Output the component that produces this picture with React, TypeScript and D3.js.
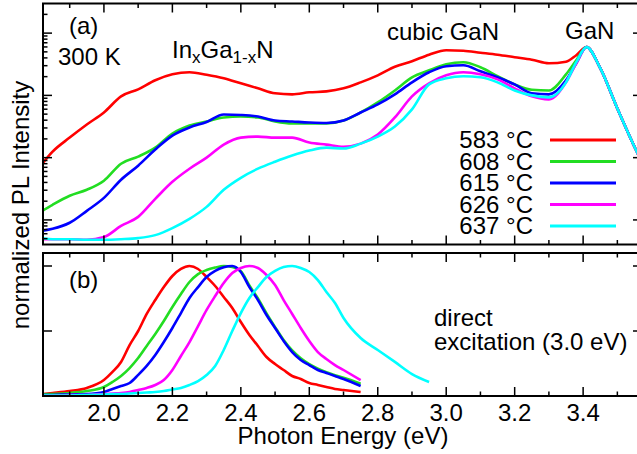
import React from 'react';
import * as d3 from 'd3';

// ---------- data ----------
const seriesLabels = ['583 °C', '608 °C', '615 °C', '626 °C', '637 °C'];
const seriesColors = ['#ff0000', '#22dd22', '#0000ff', '#ff00ff', '#00ffff'];

// (a) PL spectra, log intensity
const topEnergy = [1.82, 1.85, 1.9, 1.95, 2.0, 2.05, 2.1, 2.15, 2.2, 2.25, 2.3, 2.35, 2.4, 2.45, 2.5, 2.55, 2.6, 2.65, 2.7, 2.75, 2.8, 2.85, 2.9, 2.95, 3.0, 3.05, 3.1, 3.15, 3.2, 3.25, 3.3, 3.35, 3.38, 3.41, 3.45, 3.5, 3.55, 3.6];
const top583 = [0.008, 0.0125, 0.021, 0.0341, 0.0532, 0.0964, 0.125, 0.175, 0.218, 0.235, 0.214, 0.188, 0.156, 0.13, 0.108, 0.104, 0.112, 0.116, 0.13, 0.162, 0.21, 0.288, 0.354, 0.45, 0.532, 0.522, 0.485, 0.45, 0.41, 0.374, 0.328, 0.347, 0.442, 0.595, 0.273, 0.0617, 0.015, 0.00426];
const top608 = [0.0014, 0.00175, 0.00244, 0.00305, 0.00426, 0.008, 0.0104, 0.0145, 0.0244, 0.0328, 0.0381, 0.0442, 0.0458, 0.0442, 0.0381, 0.0354, 0.0354, 0.0354, 0.0395, 0.0532, 0.0771, 0.12, 0.195, 0.253, 0.316, 0.341, 0.283, 0.203, 0.15, 0.123, 0.12, 0.218, 0.367, 0.595, 0.273, 0.0617, 0.015, 0.00426];
const top615 = [0.00067, 0.00072, 0.0009, 0.0014, 0.00226, 0.00442, 0.00743, 0.0135, 0.0226, 0.0305, 0.0374, 0.0494, 0.0485, 0.0458, 0.0395, 0.0381, 0.0367, 0.036, 0.0395, 0.0532, 0.0716, 0.104, 0.162, 0.235, 0.294, 0.305, 0.244, 0.195, 0.15, 0.108, 0.104, 0.175, 0.328, 0.595, 0.273, 0.0617, 0.015, 0.00426];
const top626 = [0.00049, 0.00049, 0.00049, 0.00048, 0.00053, 0.0008, 0.00112, 0.00218, 0.0041, 0.00665, 0.01, 0.0162, 0.021, 0.0218, 0.021, 0.021, 0.0175, 0.0162, 0.015, 0.0168, 0.0235, 0.0442, 0.0964, 0.156, 0.21, 0.235, 0.218, 0.181, 0.13, 0.0964, 0.0862, 0.162, 0.328, 0.595, 0.273, 0.0617, 0.015, 0.00426];
const top637 = [0.00051, 0.00049, 0.00049, 0.00048, 0.00048, 0.00049, 0.00051, 0.00057, 0.00074, 0.00104, 0.00162, 0.00305, 0.00475, 0.00665, 0.0086, 0.0108, 0.013, 0.0145, 0.014, 0.0168, 0.0218, 0.0316, 0.0595, 0.15, 0.188, 0.203, 0.195, 0.162, 0.12, 0.1, 0.0929, 0.162, 0.341, 0.595, 0.273, 0.0617, 0.015, 0.00426];

// (b) direct excitation, linear intensity
const botEnergy = [1.82, 1.85, 1.9, 1.95, 2.0, 2.025, 2.05, 2.075, 2.1, 2.125, 2.15, 2.175, 2.2, 2.225, 2.25, 2.275, 2.3, 2.325, 2.35, 2.375, 2.4, 2.425, 2.45, 2.475, 2.5, 2.525, 2.55, 2.575, 2.6, 2.625, 2.65, 2.675, 2.7, 2.75, 2.8, 2.85, 2.9, 2.95];
const bot583 = [0.015, 0.023, 0.038, 0.062, 0.123, 0.185, 0.262, 0.392, 0.5, 0.631, 0.738, 0.838, 0.923, 0.977, 1.0, 0.977, 0.915, 0.846, 0.762, 0.677, 0.569, 0.469, 0.385, 0.3, 0.246, 0.2, 0.154, 0.131, 0.1, 0.085, 0.069, 0.054, 0.046, 0.031, null, null, null, null];
const bot608 = [0.012, 0.015, 0.023, 0.038, 0.069, 0.108, 0.154, 0.215, 0.292, 0.385, 0.477, 0.577, 0.685, 0.785, 0.877, 0.938, 0.969, 0.988, 1.0, 0.992, 0.96, 0.85, 0.75, 0.635, 0.53, 0.43, 0.35, 0.29, 0.245, 0.21, 0.182, 0.16, 0.14, 0.095, null, null, null, null];
const bot615 = [0.008, 0.008, 0.012, 0.015, 0.031, 0.054, 0.077, 0.1, 0.162, 0.231, 0.315, 0.415, 0.523, 0.638, 0.754, 0.838, 0.915, 0.962, 0.99, 1.0, 0.954, 0.838, 0.738, 0.623, 0.523, 0.423, 0.338, 0.277, 0.238, 0.2, 0.177, 0.154, 0.131, 0.077, null, null, null, null];
const bot626 = [0.004, 0.004, 0.008, 0.008, 0.015, 0.019, 0.023, 0.031, 0.046, 0.062, 0.085, 0.123, 0.2, 0.308, 0.415, 0.538, 0.662, 0.769, 0.869, 0.946, 0.985, 1.0, 0.985, 0.931, 0.854, 0.738, 0.631, 0.523, 0.423, 0.338, 0.285, 0.238, 0.2, 0.123, null, null, null, null];
const bot637 = [0.004, 0.004, 0.004, 0.008, 0.012, 0.015, 0.015, 0.019, 0.023, 0.027, 0.031, 0.038, 0.05, 0.062, 0.085, 0.115, 0.162, 0.231, 0.354, 0.5, 0.638, 0.754, 0.838, 0.915, 0.962, 0.992, 1.0, 0.985, 0.954, 0.892, 0.8, 0.715, 0.6, 0.446, 0.354, 0.262, 0.169, 0.108];

const xMajorTicks = [2.0, 2.2, 2.4, 2.6, 2.8, 3.0, 3.2, 3.4];
const xTickLabels = ['2.0', '2.2', '2.4', '2.6', '2.8', '3.0', '3.2', '3.4'];
const xMinorTicks = [1.9, 2.1, 2.3, 2.5, 2.7, 2.9, 3.1, 3.3, 3.5];
const topMajorTicks = [0.001, 0.01, 0.1, 1];
const topDecades = [0.0001, 0.001, 0.01, 0.1, 1];
const botMajorTicks = [0, 0.5, 1.0];

// ---------- layout ----------
const W = 637;
const H = 454;
const L = 43;
const R = 642;
const TOP_T = 3.5;
const TOP_B = 244.5;
const BOT_T = 253;
const BOT_B = 396;
const FONT = '"Liberation Sans", Arial, Helvetica, sans-serif';
const FS = 24;
const MAJ = 9;
const MIN = 4.5;

export default function App() {
  const x = d3.scaleLinear().domain([1.822, 3.572]).range([L, R]);
  const yTop = d3.scaleLog().domain([0.000403, 2.99]).range([TOP_B, TOP_T]);
  const yBot = d3.scaleLinear().domain([0, 1.1]).range([BOT_B, BOT_T]);

  const topSeries = [top583, top608, top615, top626, top637];
  const botSeries = [bot583, bot608, bot615, bot626, bot637];

  const lineTop = d3
    .line<number>()
    .x((_, i) => x(topEnergy[i]))
    .y((d) => yTop(d))
    .curve(d3.curveMonotoneX);

  const lineBot = d3
    .line<number | null>()
    .defined((d) => d !== null)
    .x((_, i) => x(botEnergy[i]))
    .y((d) => yBot(d as number))
    .curve(d3.curveMonotoneX);

  const topMinor: number[] = [];
  topDecades.forEach((dec) => {
    for (let k = 2; k <= 9; k++) {
      const v = dec * k;
      const [lo, hi] = yTop.domain();
      if (v > lo && v < hi) topMinor.push(v);
    }
  });

  const stroke = '#000';
  const xTickEls: React.ReactNode[] = [];
  const panels = [
    { t: TOP_T, b: TOP_B },
    { t: BOT_T, b: BOT_B },
  ];
  panels.forEach((p, pi) => {
    xMajorTicks.forEach((v, i) => {
      xTickEls.push(
        <line key={`xmt${pi}-${i}`} x1={x(v)} x2={x(v)} y1={p.t} y2={p.t + MAJ} stroke={stroke} strokeWidth={1.5} />,
        <line key={`xmb${pi}-${i}`} x1={x(v)} x2={x(v)} y1={p.b} y2={p.b - MAJ} stroke={stroke} strokeWidth={1.5} />
      );
    });
    xMinorTicks.forEach((v, i) => {
      xTickEls.push(
        <line key={`xnt${pi}-${i}`} x1={x(v)} x2={x(v)} y1={p.t} y2={p.t + MIN} stroke={stroke} strokeWidth={1.5} />,
        <line key={`xnb${pi}-${i}`} x1={x(v)} x2={x(v)} y1={p.b} y2={p.b - MIN} stroke={stroke} strokeWidth={1.5} />
      );
    });
  });

  const legendY0 = 140;
  const legendDy = 21.5;

  return (
    <div style={{ position: 'absolute', left: 0, top: 0 }}>
      <svg width={W} height={H} style={{ display: 'block', background: '#fff' }} fontFamily={FONT}>
        <defs>
          <clipPath id="clipTop">
            <rect x={L} y={TOP_T} width={R - L} height={TOP_B - TOP_T} />
          </clipPath>
          <clipPath id="clipBot">
            <rect x={L} y={BOT_T} width={R - L} height={BOT_B - BOT_T} />
          </clipPath>
        </defs>
        <rect x={0} y={0} width={W} height={H} fill="#fff" />

        {/* curves (a) */}
        <g clipPath="url(#clipTop)">
          {topSeries.map((s, i) => (
            <path key={`t${i}`} d={lineTop(s) || ''} fill="none" stroke={seriesColors[i]} strokeWidth={2.6} strokeLinejoin="round" />
          ))}
        </g>
        {/* curves (b) */}
        <g clipPath="url(#clipBot)">
          {botSeries.map((s, i) => (
            <path key={`b${i}`} d={lineBot(s) || ''} fill="none" stroke={seriesColors[i]} strokeWidth={2.6} strokeLinejoin="round" />
          ))}
        </g>

        {/* frames */}
        <rect x={L} y={TOP_T} width={R - L} height={TOP_B - TOP_T} fill="none" stroke={stroke} strokeWidth={2} />
        <rect x={L} y={BOT_T} width={R - L} height={BOT_B - BOT_T} fill="none" stroke={stroke} strokeWidth={2} />

        {/* x ticks */}
        {xTickEls}

        {/* y ticks (a) */}
        {topMajorTicks.map((v, i) => (
          <g key={`ytm${i}`}>
            <line x1={L} x2={L + MAJ} y1={yTop(v)} y2={yTop(v)} stroke={stroke} strokeWidth={1.5} />
            <line x1={R} x2={R - MAJ} y1={yTop(v)} y2={yTop(v)} stroke={stroke} strokeWidth={1.5} />
          </g>
        ))}
        {topMinor.map((v, i) => (
          <g key={`ytn${i}`}>
            <line x1={L} x2={L + MIN} y1={yTop(v)} y2={yTop(v)} stroke={stroke} strokeWidth={1.5} />
            <line x1={R} x2={R - MIN} y1={yTop(v)} y2={yTop(v)} stroke={stroke} strokeWidth={1.5} />
          </g>
        ))}
        {/* y ticks (b) */}
        {botMajorTicks.map((v, i) => (
          <g key={`ybm${i}`}>
            <line x1={L} x2={L + MAJ} y1={yBot(v)} y2={yBot(v)} stroke={stroke} strokeWidth={1.5} />
            <line x1={R} x2={R - MAJ} y1={yBot(v)} y2={yBot(v)} stroke={stroke} strokeWidth={1.5} />
          </g>
        ))}

        {/* x tick labels */}
        {xMajorTicks.map((v, i) => (
          <text key={`xl${i}`} x={x(v)} y={421} fontSize={FS} textAnchor="middle" fill="#000">
            {xTickLabels[i]}
          </text>
        ))}

        {/* axis titles */}
        <text x={343} y={444} fontSize={FS} textAnchor="middle" fill="#000">
          Photon Energy (eV)
        </text>
        <text transform="translate(29,205) rotate(-90)" fontSize={FS} textAnchor="middle" fill="#000">
          normalized PL Intensity
        </text>

        {/* annotations */}
        <text x={69} y={34} fontSize={FS} fill="#000">(a)</text>
        <text x={58} y={65} fontSize={FS} fill="#000">300 K</text>
        <text x={172} y={58} fontSize={FS} fill="#000">
          In
          <tspan fontSize={17} dy={5}>x</tspan>
          <tspan dy={-5}>Ga</tspan>
          <tspan fontSize={17} dy={5}>1-x</tspan>
          <tspan dy={-5}>N</tspan>
        </text>
        <text x={387} y={40} fontSize={FS} fill="#000">cubic GaN</text>
        <text x={565} y={39} fontSize={FS} fill="#000">GaN</text>
        <text x={69} y={288} fontSize={FS} fill="#000">(b)</text>
        <text x={434} y={326} fontSize={FS} fill="#000">direct</text>
        <text x={434} y={350} fontSize={FS} fill="#000">excitation (3.0 eV)</text>

        {/* legend */}
        {seriesLabels.map((lab, i) => {
          const yy = legendY0 + i * legendDy;
          return (
            <g key={`lg${i}`}>
              <text x={533} y={yy + 8} fontSize={FS} textAnchor="end" fill="#000">
                {lab}
              </text>
              <line x1={550} x2={616} y1={yy} y2={yy} stroke={seriesColors[i]} strokeWidth={2.8} />
            </g>
          );
        })}
      </svg>
    </div>
  );
}
